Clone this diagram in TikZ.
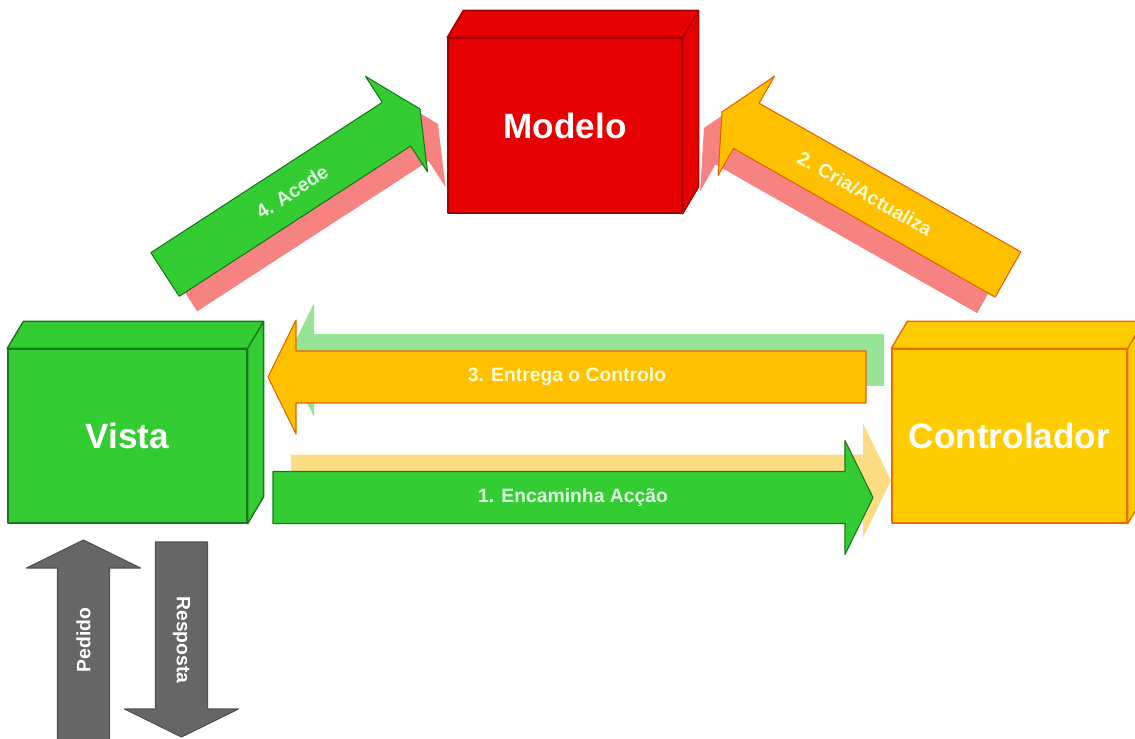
\documentclass[tikz,border=0pt]{standalone}
\usepackage{fontspec}
\setmainfont{Liberation Sans}
\usetikzlibrary{positioning}
\definecolor{vgreen}{RGB}{51,204,51}
\definecolor{vgreenedge}{RGB}{25,120,25}
\definecolor{mred}{RGB}{230,0,0}
\definecolor{mrededge}{RGB}{165,0,0}
\definecolor{cyellow}{RGB}{255,204,0}
\definecolor{cyellowedge}{RGB}{232,110,0}
\definecolor{aorange}{RGB}{255,192,0}
\definecolor{aorangeedge}{RGB}{228,100,0}
\definecolor{shpink}{RGB}{247,130,130}
\definecolor{shgreen}{RGB}{150,228,150}
\definecolor{shyellow}{RGB}{252,220,130}
\definecolor{agray}{RGB}{102,102,102}
\definecolor{agrayedge}{RGB}{80,80,80}

% block arrow: style, tail midpoint, angle, length (tail to tip)
\newcommand{\blockarrow}[4]{%
  \begin{scope}[shift={#2},rotate=#3]
    \path[#1] (0,-26) -- ({#4-28},-26) -- ({#4-28},-57) -- (#4,0)
      -- ({#4-28},57) -- ({#4-28},26) -- (0,26) -- cycle;
  \end{scope}}
% top and right faces of a box node
\newcommand{\boxsides}[2]{%
  \draw[#2] (#1.north west) -- ([shift={(16,-27)}]#1.north west)
    -- ([shift={(16,-27)}]#1.north east) -- ([shift={(16,-27)}]#1.south east)
    -- (#1.south east) -- (#1.north east) -- cycle
    (#1.north east) -- ([shift={(16,-27)}]#1.north east);}

\begin{document}
\begin{tikzpicture}[x=0.02cm,y=-0.02cm,line join=round,
  cube/.style={draw,line width=0.8pt,font=\bfseries\fontsize{20}{24}\selectfont,text=white},
  vbox/.style={cube,fill=vgreen,draw=vgreenedge,minimum width=4.78cm,minimum height=3.48cm},
  mbox/.style={cube,fill=mred,draw=mrededge,minimum width=4.68cm,minimum height=3.5cm},
  cbox/.style={cube,fill=cyellow,draw=cyellowedge,minimum width=4.7cm,minimum height=3.48cm},
  albl/.style={font=\bfseries\fontsize{11}{13}\selectfont},
  garrow/.style={fill=vgreen,draw=vgreenedge,line width=0.6pt},
  oarrow/.style={fill=aorange,draw=aorangeedge,line width=0.6pt},
  grarrow/.style={fill=agray,draw=agrayedge,line width=0.6pt}]
  \clip (0,0) rectangle (1135,739);

  % boxes
  \node[vbox] (vista) at (127.5,436) {Vista};
  \boxsides{vista}{fill=vgreen,draw=vgreenedge,line width=0.8pt}
  \node[mbox] (modelo) at (565,125.5) {Modelo};
  \boxsides{modelo}{fill=mred,draw=mrededge,line width=0.8pt}
  \node[cbox] (ctrl) at (1009.5,436) {Controlador};
  \boxsides{ctrl}{fill=cyellow,draw=cyellowedge,line width=0.8pt}

  % shadows
  \blockarrow{fill=shyellow}{(291,480.5)}{0}{600}
  \blockarrow{fill=shgreen}{(884,360)}{180}{598}
  \blockarrow{fill=shpink}{(183,289.5)}{33}{304}
  \blockarrow{fill=shpink}{(990,290.5)}{150.4}{329}

  % arrows
  \blockarrow{garrow}{(273,497.5)}{0}{600}
  \node[albl,text=green!12!white] (encaminha) at (573,497.5) {1. Encaminha Acção};
  \blockarrow{oarrow}{(866,377)}{180}{598}
  \node[albl,text=yellow!18!white] (entrega) at (567,377) {3. Entrega o Controlo};
  \blockarrow{garrow}{(165,274.5)}{33}{304}
  \node[albl,text=green!12!white,rotate=33] (acede) at (292,192) {4. Acede};
  \blockarrow{oarrow}{(1008,274.5)}{150.4}{329}
  \node[albl,text=yellow!18!white,rotate=-29.6] (cria) at (865,193.5) {2. Cria/Actualiza};

  \blockarrow{grarrow}{(83.5,745)}{90}{205}
  \node[albl,text=white,rotate=90] (pedido) at (83.5,640) {Pedido};
  \blockarrow{grarrow}{(181.5,542)}{-90}{195}
  \node[albl,text=white,rotate=-90] (resposta) at (181.5,640) {Resposta};
\end{tikzpicture}
\end{document}
